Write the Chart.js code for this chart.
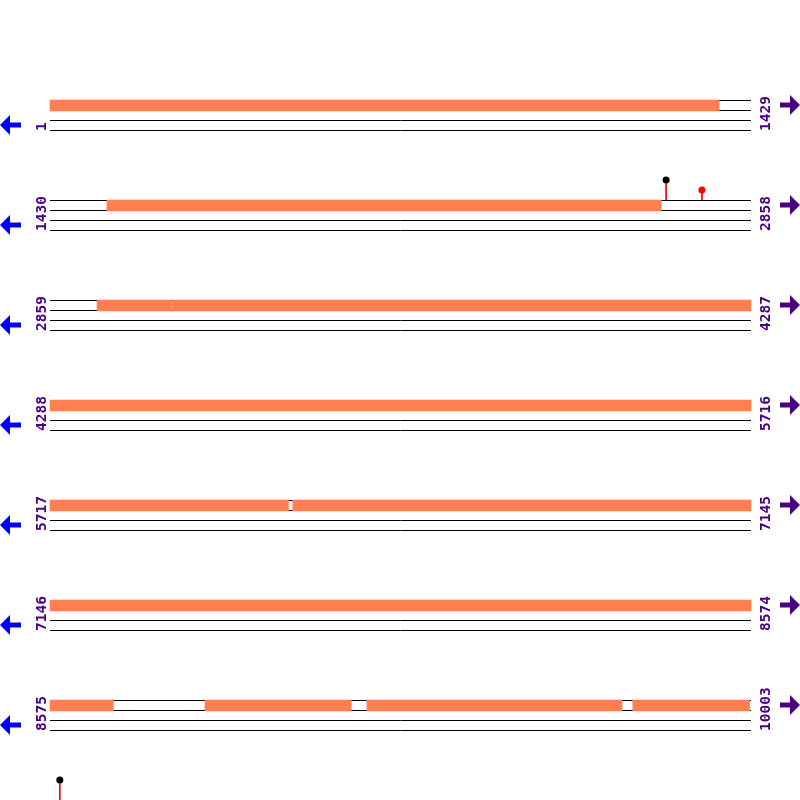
<!DOCTYPE html>
<html>
<head>
<meta charset="utf-8">
<script src="https://cdn.jsdelivr.net/npm/chart.js@4.4.1/dist/chart.umd.min.js"></script>
<style>
html,body{margin:0;padding:0;background:#fff;}
#wrap{width:800px;height:800px;}
</style>
</head>
<body>
<div id="wrap"><canvas id="mapChart" width="800" height="800"></canvas></div>
<script>
// SEQUENCE MAP, 7 ROWS OF 1429 BP

const rowStarts = [1, 1430, 2859, 4288, 5717, 7146, 8575];
const rowEnds = [1429, 2858, 4287, 5716, 7145, 8574, 10003];

// features (orange), global positions
const featStarts = [1, 1546, 2955, 3107, 6212, 8891, 9221, 9763];
const featEnds = [1364, 2675, 3104, 6202, 8703, 9188, 9740, 10000];

// lollipop markers
const markPos = [2686, 2759, 10024];
const markHeight = [20, 10, 20];
const markDot = ["#000000", "#ff0000", "#000000"];

const ROW_LEN = 1429;
const ROW_GAP = 100;   // y units between rows
const TRACK_TOP = 100; // y of first track
const ORANGE = "#ff7f50";
const PURPLE = "#4b0082";

function rowOf(bp){ return Math.floor((bp - 1) / ROW_LEN); }
function localOf(bp){ return (bp - 1) - rowOf(bp) * ROW_LEN; }

// split features into row pieces
const barData = [];
featStarts.forEach((s, k) => {
  const e = featEnds[k];
  for (let r = rowOf(s); r <= rowOf(e); r++) {
    const a = Math.max(s, r * ROW_LEN + 1);
    const b = Math.min(e, (r + 1) * ROW_LEN);
    barData.push({
      x: [a - 1 - r * ROW_LEN, b - r * ROW_LEN],
      y: TRACK_TOP + r * ROW_GAP + 5.5
    });
  }
});

// track lines
const lineData = [];
rowStarts.forEach((s, i) => {
  [0.5, 10.5, 20.5, 30.5].forEach(off => {
    const yv = TRACK_TOP + i * ROW_GAP + off;
    lineData.push({x: 0, y: yv}, {x: rowEnds[i] - s + 1, y: yv}, {x: 0, y: null});
  });
});

// markers
const stemData = [];
const dotData = [];
markPos.forEach((p, k) => {
  const top = TRACK_TOP + rowOf(p) * ROW_GAP;
  const lx = localOf(p);
  stemData.push({x: lx, y: top - markHeight[k]}, {x: lx, y: top}, {x: lx, y: null});
  dotData.push({x: lx, y: top - markHeight[k]});
});

// labels + arrows
const decor = {
  id: "decor",
  afterDatasetsDraw(chart){
    const {ctx, scales: {x, y}} = chart;
    const x0 = x.getPixelForValue(0);
    const x1 = x.getPixelForValue(ROW_LEN);
    ctx.save();
    ctx.font = "bold 14.5px 'DejaVu Sans Mono'";
    ctx.textAlign = "left";
    ctx.textBaseline = "alphabetic";
    rowStarts.forEach((s, i) => {
      const top = y.getPixelForValue(TRACK_TOP + i * ROW_GAP);
      ctx.fillStyle = PURPLE;
      // left label
      ctx.save();
      ctx.translate(x0 - 4, top + 31);
      ctx.rotate(-Math.PI / 2);
      ctx.fillText(String(s), 0, 0);
      ctx.restore();
      // right label
      ctx.save();
      ctx.translate(x1 + 19, top + 31);
      ctx.rotate(-Math.PI / 2);
      ctx.fillText(String(rowEnds[i]), 0, 0);
      ctx.restore();

      // left arrow
      const lx = x0 - 50, ly = top + 25;
      ctx.fillStyle = "#0000ff";
      ctx.beginPath();
      ctx.moveTo(lx, ly);
      ctx.lineTo(lx + 10, ly - 10);
      ctx.lineTo(lx + 10, ly + 10);
      ctx.closePath();
      ctx.fill();
      ctx.fillRect(lx + 9, ly - 2.5, 12, 5);

      // right arrow
      const rx = x1 + 49, ry = top + 5;
      ctx.fillStyle = PURPLE;
      ctx.beginPath();
      ctx.moveTo(rx, ry);
      ctx.lineTo(rx - 10, ry - 10);
      ctx.lineTo(rx - 10, ry + 10);
      ctx.closePath();
      ctx.fill();
      ctx.fillRect(rx - 20, ry - 2.5, 11, 5);
    });
    ctx.restore();
  }
};

const mapChart = new Chart(document.getElementById("mapChart").getContext("2d"), {
  type: "scatter",
  data: {
    datasets: [
      {
        type: "line",
        data: lineData,
        borderColor: "#000000",
        borderWidth: 1,
        pointRadius: 0,
        spanGaps: false,
        order: 3
      },
      {
        type: "bar",
        indexAxis: "y",
        data: barData,
        backgroundColor: ORANGE,
        borderWidth: 0,
        barThickness: 11,
        order: 2
      },
      {
        type: "line",
        data: stemData,
        borderColor: "#ff0000",
        borderWidth: 1,
        pointRadius: 0,
        spanGaps: false,
        order: 1
      },
      {
        type: "scatter",
        data: dotData,
        pointRadius: 3.5,
        pointBackgroundColor: markDot,
        pointBorderWidth: 0,
        clip: false,
        order: 0
      }
    ]
  },
  options: {
    responsive: false,
    animation: false,
    layout: {padding: 0, autoPadding: false},
    plugins: {
      legend: {display: false},
      tooltip: {enabled: false}
    },
    scales: {
      x: {
        type: "linear",
        display: false,
        offset: false,
        grid: {offset: false},
        min: -50 * ROW_LEN / 701,
        max: 750 * ROW_LEN / 701
      },
      y: {
        type: "linear",
        display: false,
        offset: false,
        grid: {offset: false},
        reverse: true,
        min: 0,
        max: 800
      }
    }
  },
  plugins: [decor]
});
</script>
</body>
</html>
